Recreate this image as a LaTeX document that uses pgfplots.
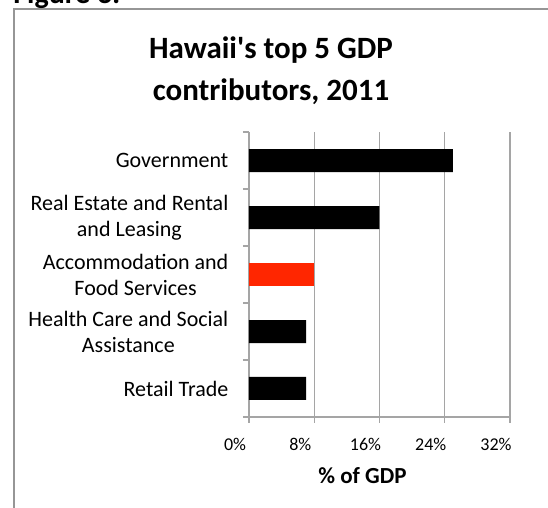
\documentclass[border=0pt]{standalone}
\usepackage{pgfplots}
\pgfplotsset{compat=1.18}
\usepackage{fontspec}
\setmainfont{Carlito}
\definecolor{barred}{RGB}{255,38,0}
\definecolor{gridgray}{RGB}{165,165,165}
\definecolor{framegray}{RGB}{150,150,150}
\begin{document}
\begin{tikzpicture}
\path[use as bounding box] (0,0) rectangle (274pt,-254pt);
\begin{scope}[x=0.5pt,y=-0.5pt]
  \begin{scope}
    \clip (0,0) rectangle (548,508);
    \draw[framegray, line width=0.7pt] (14,520) -- (14,9) -- (560,9);
    \node[anchor=base west, inner sep=0, font=\bfseries\fontsize{15}{18}\selectfont] at (13,4) {Figure 3:};
  \end{scope}
  \node[anchor=base, inner sep=0, font=\bfseries\fontsize{15.5}{18}\selectfont] at (271,59) {Hawaii\textquotesingle s top 5 GDP};
  \node[anchor=base, inner sep=0, font=\bfseries\fontsize{15.5}{18}\selectfont] at (271,101) {contributors, 2011};
\end{scope}
\begin{axis}[
  at={(124.5pt,-208.5pt)}, anchor=south west,
  scale only axis, width=130.5pt, height=142.5pt,
  xbar, bar width=11.5pt, bar shift=0pt,
  xmin=0, xmax=32, ymin=-0.5, ymax=4.5,
  axis x line*=bottom, axis y line*=left,
  axis line style={gridgray, line width=0.7pt},
  xtick={0,8,16,24,32},
  minor xtick={0,8,16,24,32},
  xticklabel={\pgfmathprintnumber{\tick}\%},
  /pgf/number format/assume math mode=true,
  xticklabel style={font=\fontsize{9}{10}\selectfont, xshift=-7pt, yshift=-7pt},
  xmajorgrids, grid style={gridgray, line width=0.7pt},
  tick align=outside,
  tick style={gridgray, line width=0.7pt},
  major tick length=0pt,
  minor tick length=3pt,
  ytick={0,1,2,3,4},
  yticklabels={Retail Trade, {Health Care and Social\\Assistance}, {Accommodation and\\Food Services}, {Real Estate and Rental\\and Leasing}, Government},
  minor ytick={-0.5,0.5,1.5,2.5,3.5,4.5},
  yticklabel style={align=center, font=\fontsize{11}{13}\selectfont, xshift=-6.8pt},
  xlabel={\% of GDP},
  xlabel style={font=\bfseries\fontsize{11.5}{14}\selectfont, xshift=-8.5pt, yshift=-1.5pt},
]
\addplot[fill=black, draw=none] coordinates {(25,4) (16,3) (7,1) (7,0)};
\addplot[fill=barred, draw=none] coordinates {(8,2)};
\end{axis}
\end{tikzpicture}
\end{document}
